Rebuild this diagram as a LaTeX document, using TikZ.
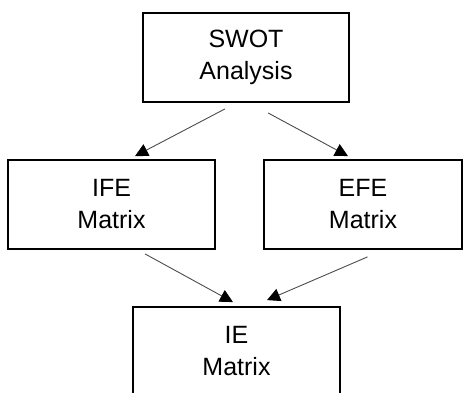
\documentclass[tikz,border=0pt]{standalone}
\usepackage{fontspec}
\setmainfont{Liberation Sans}
\usetikzlibrary{arrows.meta,calc}
\begin{document}
\begin{tikzpicture}[x=1pt,y=-1pt,
  box/.style={draw=black,line width=1.8pt,minimum width=#1,minimum height=89pt,inner sep=0pt,align=center,font=\fontsize{25}{32}\selectfont},
  conn/.style={draw=black!70,line width=0.9pt,-{Triangle[length=13pt,width=13pt,color=black]}}]
\clip (0,0) rectangle (464,392);
\node[box=206pt] (swot) at (246,57.5) {SWOT\\Analysis};
\node[box=207pt] (ife) at (111.5,204.5) {IFE\\Matrix};
\node[box=198pt] (efe) at (363,204.5) {EFE\\Matrix};
\node[box=207pt] (ie) at (236.5,351.5) {IE\\Matrix};
\draw[conn] ($(swot.south)+(-21,6)$) -- ($(ife.north)+(23.5,-3)$);
\draw[conn] ($(swot.south)+(22,10)$) -- ($(efe.north)+(-15,-3)$);
\draw[conn] ($(ife.south)+(33.5,4)$) -- ($(ie.north)+(-3.5,-4)$);
\draw[conn] ($(efe.south)+(4.5,7)$) -- ($(ie.north)+(30.5,-6)$);
\end{tikzpicture}
\end{document}
